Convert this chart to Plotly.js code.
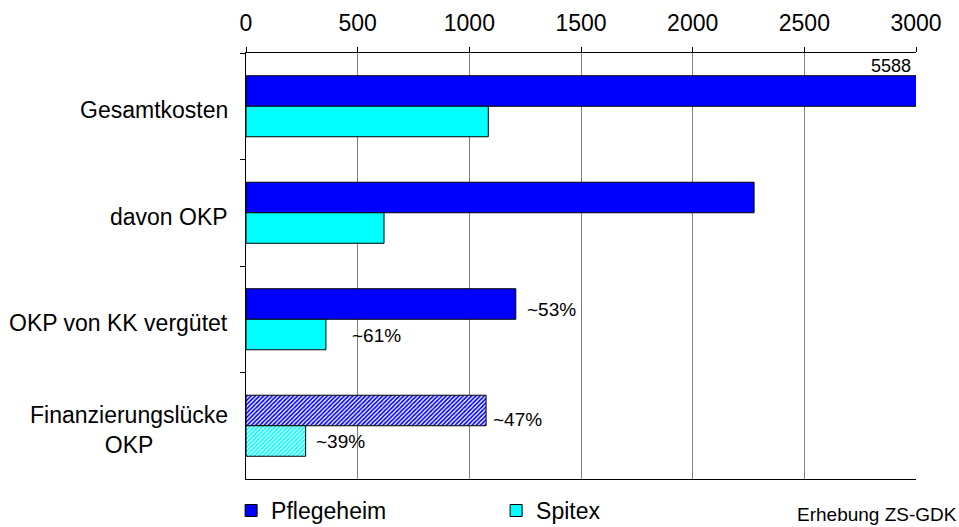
<!DOCTYPE html>
<html>
<head>
<meta charset="utf-8">
<script src="https://cdn.plot.ly/plotly-3.0.1.min.js"></script>
<style>html,body{margin:0;padding:0;background:#fff;}#chart{width:959px;height:527px;}</style>
</head>
<body>
<div id="chart"></div>
<script>
const categories = ['Gesamtkosten', 'davon OKP', 'OKP von KK vergütet', 'Finanzierungslücke<br>OKP'];
const pflegeheim = [5588, 2275, 1208, 1075];
const spitex = [1085, 618, 358, 267];
const pflegeheimLabels = ['5588', '', '~53%', '~47%'];
const spitexLabels = ['', '', '~61%', '~39%'];
const hatched = ['', '', '', '/'];
const xTicks = [0, 500, 1000, 1500, 2000, 2500, 3000];
const xMax = 3000;
const source = 'Erhebung ZS-GDK';

const FONT = 'Liberation Sans, Arial, sans-serif';

const traces = [
  {
    type: 'bar', orientation: 'h', name: 'Pflegeheim',
    y: categories, x: pflegeheim,
    marker: {
      color: '#0000ff',
      line: {color: '#000', width: 1},
      pattern: {shape: hatched, fgcolor: '#0000ff', bgcolor: '#ffffff', size: 3, solidity: 0.55}
    },
    hoverinfo: 'x'
  },
  {
    type: 'bar', orientation: 'h', name: 'Spitex',
    y: categories, x: spitex,
    marker: {
      color: '#00ffff',
      line: {color: '#000', width: 1},
      pattern: {shape: hatched, fgcolor: '#00ffff', bgcolor: '#ffffff', size: 3, solidity: 0.6}
    },
    hoverinfo: 'x'
  }
];

const annotations = [];
categories.forEach((c, i) => {
  annotations.push({
    xref: 'paper', x: 0, yref: 'y', y: i, text: c,
    xanchor: 'right', yanchor: 'middle', align: 'center', xshift: -16, yshift: -4,
    showarrow: false, font: {family: FONT, size: 23, color: '#000'}
  });
  if (pflegeheimLabels[i]) {
    if (pflegeheim[i] > xMax) {
      annotations.push({
        xref: 'x', x: xMax, yref: 'y', y: i, text: pflegeheimLabels[i],
        xanchor: 'right', yanchor: 'middle', xshift: -3, yshift: 40,
        showarrow: false, font: {family: FONT, size: 18, color: '#000'}
      });
    } else {
      annotations.push({
        xref: 'x', x: pflegeheim[i], yref: 'y', y: i, text: pflegeheimLabels[i],
        xanchor: 'left', yanchor: 'middle', xshift: i === 3 ? 5 : 9, yshift: 10 - (i === 3 ? 4 : 0),
        showarrow: false, font: {family: FONT, size: 19, color: '#000'}
      });
    }
  }
  if (spitexLabels[i]) {
    annotations.push({
      xref: 'x', x: spitex[i], yref: 'y', y: i, text: spitexLabels[i],
      xanchor: 'left', yanchor: 'middle', xshift: i === 2 ? 24 : 8, yshift: -16,
      showarrow: false, font: {family: FONT, size: 19, color: '#000'}
    });
  }
});
annotations.push({
  xref: 'paper', x: 1, yref: 'paper', y: 0, text: source,
  xanchor: 'right', yanchor: 'middle', xshift: 43, yshift: -35,
  showarrow: false, font: {family: FONT, size: 19, color: '#000'}
});

const layout = {
  width: 959, height: 527,
  margin: {l: 246, r: 43, t: 53, b: 48, pad: 0, autoexpand: false},
  paper_bgcolor: '#fff', plot_bgcolor: '#fff',
  font: {family: FONT, size: 23, color: '#000'},
  barmode: 'group', bargap: 0.427, bargroupgap: 0,
  showlegend: true,
  legend: {
    orientation: 'h', xref: 'container', x: 0.241, xanchor: 'left',
    yref: 'container', y: 0.072, yanchor: 'top',
    font: {family: FONT, size: 23, color: '#000'},
    entrywidth: 220, entrywidthmode: 'pixels', traceorder: 'normal',
    bgcolor: 'rgba(0,0,0,0)'
  },
  xaxis: {
    side: 'top', range: [0, xMax], tickvals: xTicks, ticktext: xTicks.map(String),
    showgrid: true, gridcolor: '#808080', gridwidth: 1, zeroline: false,
    showline: true, linecolor: '#000', linewidth: 1, mirror: true,
    ticks: 'outside', ticklen: 5, tickcolor: '#000', ticklabelstandoff: 7,
    tickfont: {family: FONT, size: 23, color: '#000'}, fixedrange: true
  },
  yaxis: {
    type: 'category', autorange: 'reversed', showticklabels: false,
    showgrid: false, zeroline: false,
    showline: true, linecolor: '#000', linewidth: 1,
    ticks: 'outside', ticklen: 5, tickcolor: '#000', tickson: 'boundaries', fixedrange: true
  },
  annotations: annotations
};

Plotly.newPlot('chart', traces, layout, {displayModeBar: false, staticPlot: true});
</script>
</body>
</html>
